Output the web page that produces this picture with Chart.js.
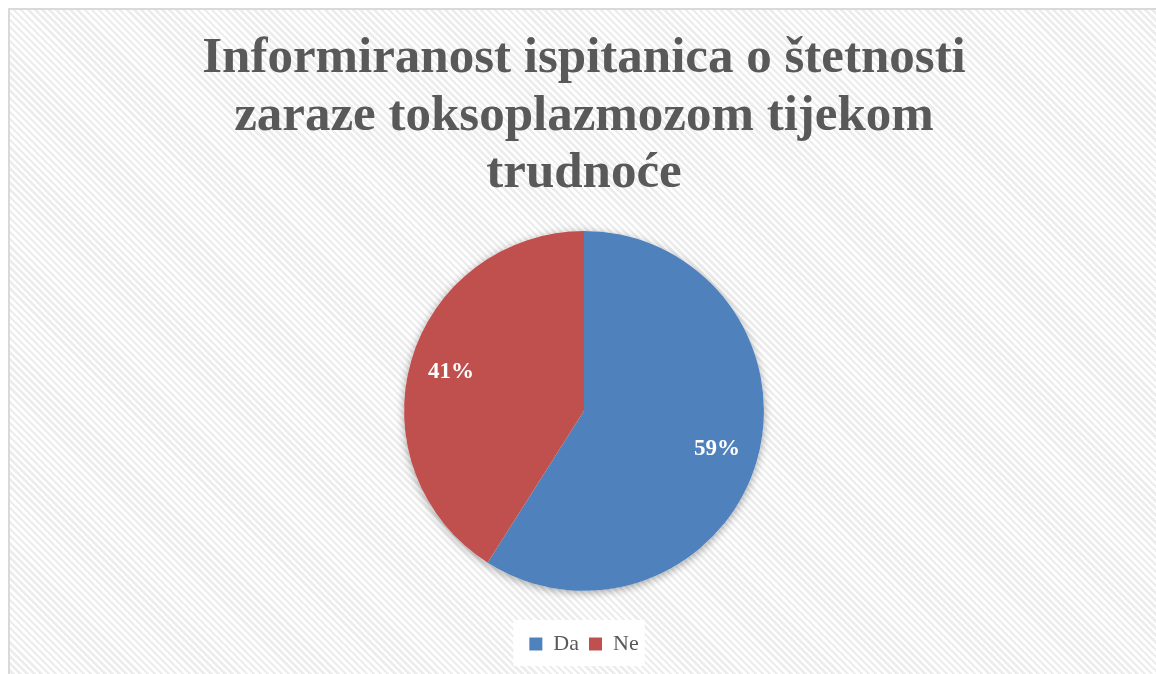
<!DOCTYPE html>
<html>
<head>
<meta charset="utf-8">
<script src="https://cdn.jsdelivr.net/npm/chart.js@4"></script>
<style>
  html, body { margin: 0; padding: 0; background: #fff; }
  .frame {
    position: absolute; left: 8px; top: 8px; width: 1160px; height: 680px;
    border-left: 2px solid #d9d9d9; border-top: 2px solid #d9d9d9;
    background: repeating-linear-gradient(45deg, #ffffff 0px, #ffffff 2.5px, #ededed 2.5px, #ededed 5px);
  }
  .wrap { position: absolute; left: 0; top: 0; width: 1156px; height: 674px; }
</style>
</head>
<body>
<div class="frame"></div>
<div class="wrap"><canvas id="pie"></canvas></div>
<script>
const categories = ['Da', 'Ne'];
const shares = [59, 41];
const sliceColors = ['#4F81BD', '#C0504D'];
const titleLines = ['Informiranost ispitanica o štetnosti', 'zaraze toksoplazmozom tijekom', 'trudnoće'];

const serif = '"Liberation Serif", "DejaVu Serif", serif';

// white box behind the legend items
const legendBg = {
    id: 'legendBg',
    beforeDraw(chart) {
        const lg = chart.legend;
        if (!lg || !lg.legendHitBoxes || !lg.legendHitBoxes.length) return;
        const boxes = lg.legendHitBoxes;
        const first = boxes[0], last = boxes[boxes.length - 1];
        const ctx = chart.ctx;
        ctx.save();
        ctx.fillStyle = '#ffffff';
        ctx.fillRect(first.left - 16, first.top - 13, (last.left + last.width) - first.left + 22, first.height + 24);
        ctx.restore();
    }
};

// soft shadow under the pie
const pieShadow = {
    id: 'pieShadow',
    beforeDatasetsDraw(chart) {
        const arc = chart.getDatasetMeta(0).data[0];
        if (!arc) return;
        const ctx = chart.ctx;
        ctx.save();
        ctx.shadowColor = 'rgba(0,0,0,0.35)';
        ctx.shadowBlur = 9;
        ctx.shadowOffsetY = 2;
        ctx.fillStyle = '#ffffff';
        ctx.beginPath();
        ctx.arc(arc.x, arc.y, arc.outerRadius, 0, Math.PI * 2);
        ctx.fill();
        ctx.restore();
    }
};

// percentage labels inside the slices
const sliceLabels = {
    id: 'sliceLabels',
    afterDatasetsDraw(chart) {
        const ctx = chart.ctx;
        const meta = chart.getDatasetMeta(0);
        ctx.save();
        ctx.fillStyle = '#ffffff';
        ctx.font = 'bold 23px ' + serif;
        ctx.textAlign = 'center';
        ctx.textBaseline = 'middle';
        meta.data.forEach((arc, i) => {
            const mid = (arc.startAngle + arc.endAngle) / 2;
            const r = arc.outerRadius * 0.77;
            ctx.fillText(shares[i] + '%', arc.x + Math.cos(mid) * r, arc.y + Math.sin(mid) * r);
        });
        ctx.restore();
    }
};

new Chart(document.getElementById('pie'), {
    type: 'pie',
    data: {
        labels: categories,
        datasets: [{
            data: shares,
            backgroundColor: sliceColors,
            borderWidth: 0,
        }],
    },
    options: {
        responsive: true,
        maintainAspectRatio: false,
        animation: false,
        layout: { padding: { top: 0, bottom: 9, left: 12, right: 0 } },
        plugins: {
            tooltip: { enabled: false },
            title: {
                display: true,
                text: titleLines,
                color: '#595959',
                font: { family: serif, size: 51, weight: 'bold', lineHeight: 1.13 },
                padding: { top: 30, bottom: 28 },
            },
            legend: {
                position: 'bottom',
                title: { display: true, text: ' ', font: { size: 1 }, padding: { top: 31, bottom: 0 } },
                labels: {
                    color: '#595959',
                    font: { family: serif, size: 22 },
                    boxWidth: 13,
                    boxHeight: 13,
                    padding: 10,
                },
            },
        },
    },
    plugins: [legendBg, pieShadow, sliceLabels],
});
</script>
</body>
</html>
